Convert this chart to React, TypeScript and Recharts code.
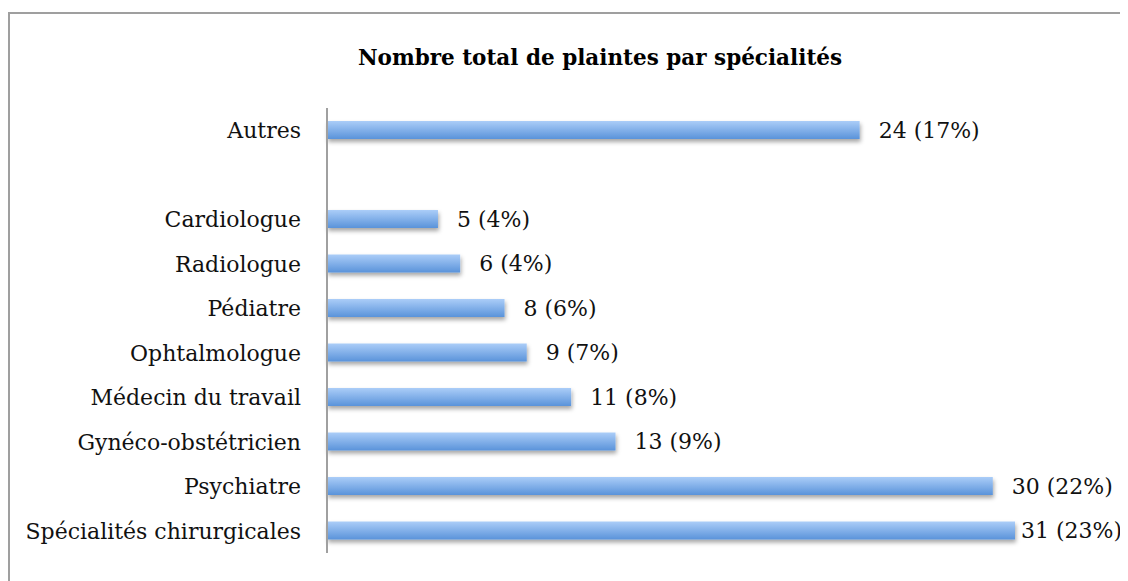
import { BarChart, Bar, XAxis, YAxis, LabelList } from "recharts";

const categories = [
  "Autres",
  " ",
  "Cardiologue",
  "Radiologue",
  "Pédiatre",
  "Ophtalmologue",
  "Médecin du travail",
  "Gynéco-obstétricien",
  "Psychiatre",
  "Spécialités chirurgicales",
];
const counts: (number | null)[] = [24, null, 5, 6, 8, 9, 11, 13, 30, 31];
const percents: (number | null)[] = [17, null, 4, 4, 6, 7, 8, 9, 22, 23];

const TITLE = "Nombre total de plaintes par spécialités";
const X_MAX = 31;
const FONT = "'DejaVu Serif', serif";

const data = categories.map((name, i) => ({
  name,
  value: counts[i],
}));

function ValueLabel(props: any) {
  const { x, y, width, height, value } = props;
  if (value == null) return null;
  const v = Number(value);
  const idx = counts.indexOf(v);
  const unit = width / v;
  const plotRight = x + unit * X_MAX;
  const lx = Math.min(x + width + 19, plotRight + 6);
  return (
    <text
      x={lx}
      y={y + height / 2}
      dy="0.36em"
      textAnchor="start"
      fontFamily={FONT}
      fontSize={22}
      fill="#111"
    >
      {`${v} (${percents[idx]}%)`}
    </text>
  );
}

export default function App() {
  return (
    <div
      style={{
        position: "relative",
        marginTop: 4,
        width: 1120,
        height: 567,
        borderTop: "2px solid #9f9f9f",
        borderLeft: "2px solid #9f9f9f",
        overflow: "hidden",
      }}
    >
      <div
        style={{
          position: "absolute",
          top: 31,
          left: 0,
          width: 1180,
          textAlign: "center",
          fontFamily: FONT,
          fontWeight: "bold",
          fontSize: 21.5,
          color: "#000",
        }}
      >
        {TITLE}
      </div>
      <BarChart
        width={1116}
        height={567}
        data={data}
        layout="vertical"
        margin={{ top: 94, right: 111, bottom: 28, left: 0 }}
        barCategoryGap={13}
      >
        <defs>
          <linearGradient id="barGrad" x1="0" y1="0" x2="0" y2="1">
            <stop offset="0%" stopColor="#abcdf8" />
            <stop offset="100%" stopColor="#5a93da" />
          </linearGradient>
          <filter id="barShadow" x="-5%" y="-50%" width="110%" height="250%">
            <feDropShadow dx="1" dy="3" stdDeviation="2" floodColor="#000" floodOpacity="0.35" />
          </filter>
        </defs>
        <XAxis type="number" domain={[0, X_MAX]} hide />
        <YAxis
          type="category"
          dataKey="name"
          width={317}
          tickLine={false}
          tickMargin={20}
          axisLine={{ stroke: "#a0a0a0", strokeWidth: 2 }}
          interval={0}
          tick={{ fontFamily: FONT, fontSize: 22, fill: "#111" }}
        />
        <Bar
          dataKey="value"
          fill="url(#barGrad)"
          barSize={18}
          filter="url(#barShadow)"
          isAnimationActive={false}
        >
          <LabelList dataKey="value" content={<ValueLabel />} />
        </Bar>
      </BarChart>
    </div>
  );
}
